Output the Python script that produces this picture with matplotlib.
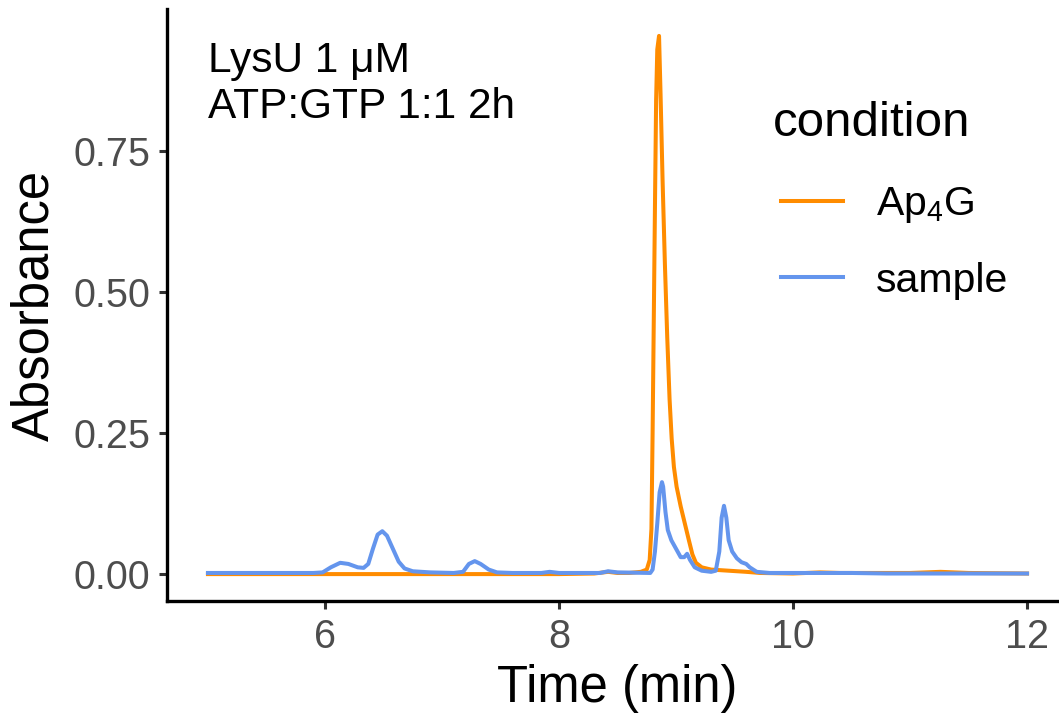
import matplotlib
matplotlib.use("Agg")
import matplotlib.pyplot as plt

plt.rcParams["font.family"] = ["Liberation Sans", "DejaVu Sans"]
plt.rcParams["mathtext.fontset"] = "custom"
plt.rcParams["mathtext.rm"] = "Liberation Sans"

# Ap4G standard trace (time in min, absorbance)
ap4g_time = [5.0, 6.0, 7.0, 8.0, 8.3, 8.42, 8.5, 8.6, 8.70, 8.75, 8.775, 8.79,
             8.80, 8.81, 8.82, 8.83, 8.84, 8.855, 8.868, 8.885, 8.905, 8.925,
             8.945, 8.963, 8.982, 9.005, 9.04, 9.075, 9.11, 9.14, 9.17, 9.22,
             9.30, 9.45, 9.6, 9.72, 10.0, 10.23, 10.4, 10.6, 11.0, 11.26,
             11.5, 12.0]
ap4g_abs = [0.0, 0.0, 0.0, 0.0, 0.001, 0.004, 0.002, 0.002, 0.004, 0.008, 0.025,
            0.08, 0.25, 0.45, 0.65, 0.84, 0.93, 0.954, 0.85, 0.70, 0.55, 0.42,
            0.31, 0.24, 0.19, 0.155, 0.12, 0.09, 0.06, 0.035, 0.02, 0.012,
            0.008, 0.006, 0.004, 0.002, 0.001, 0.003, 0.002, 0.002, 0.002,
            0.004, 0.002, 0.001]

# reaction sample trace
sample_time = [5.0, 5.9, 5.98, 6.05, 6.13, 6.2, 6.28, 6.33, 6.37, 6.41, 6.45,
               6.49, 6.53, 6.58, 6.63, 6.68, 6.75, 6.9, 7.1, 7.18, 7.23, 7.28,
               7.33, 7.40, 7.47, 7.6, 7.85, 7.92, 8.0, 8.35, 8.42, 8.5, 8.78,
               8.80, 8.82, 8.84, 8.86, 8.88, 8.89, 8.91, 8.93, 8.96, 9.0, 9.04,
               9.07, 9.095, 9.12, 9.16, 9.22, 9.3, 9.34, 9.37, 9.39, 9.41, 9.43,
               9.45, 9.48, 9.52, 9.56, 9.60, 9.63, 9.69, 9.8, 10.0, 10.5, 10.8,
               11.0, 11.5, 12.0]
sample_abs = [0.002, 0.002, 0.003, 0.012, 0.020, 0.018, 0.012, 0.011, 0.018,
              0.045, 0.070, 0.076, 0.068, 0.045, 0.022, 0.010, 0.005, 0.003,
              0.002, 0.004, 0.018, 0.023, 0.018, 0.008, 0.003, 0.002, 0.002,
              0.004, 0.002, 0.002, 0.005, 0.003, 0.002, 0.008, 0.04, 0.09,
              0.145, 0.163, 0.155, 0.11, 0.078, 0.060, 0.045, 0.030, 0.030,
              0.036, 0.025, 0.012, 0.006, 0.004, 0.006, 0.04, 0.10, 0.121, 0.10,
              0.06, 0.040, 0.028, 0.021, 0.018, 0.012, 0.004, 0.002, 0.002,
              0.002, 0.001, 0.001, 0.001, 0.001]

fig = plt.figure(figsize=(10.59, 7.22), dpi=100)
ax = fig.add_axes([167 / 1059, 121 / 722, 901 / 1059, 592 / 722])

ax.plot(ap4g_time, ap4g_abs, color="#FF8C00", lw=2.9, label=r"Ap$_\mathregular{4}$G",
        solid_joinstyle="round")
ax.plot(sample_time, sample_abs, color="#6495ED", lw=2.9, label="sample",
        solid_joinstyle="round")

ax.set_xlim(4.65, 12.35)
ax.set_ylim(-0.0477, 1.0017)
ax.set_xticks([6, 8, 10, 12])
ax.set_yticks([0.0, 0.25, 0.5, 0.75])
ax.set_yticklabels(["0.00", "0.25", "0.50", "0.75"])

for s in ["top", "right"]:
    ax.spines[s].set_visible(False)
for s in ["left", "bottom"]:
    ax.spines[s].set_linewidth(2.4)
    ax.spines[s].set_color("black")
ax.tick_params(length=6, width=2.2, color="#333333", labelcolor="#4D4D4D",
               labelsize=28.5, pad=6)

ax.set_xlabel("Time (min)", fontsize=36.5, labelpad=6)
ax.set_ylabel("Absorbance", fontsize=36.5, labelpad=10)

ax.text(5.0, 0.945, "LysU 1 μM\nATP:GTP 1:1 2h", fontsize=30.5, ha="left",
        va="top", linespacing=1.2)

# legend: title as separate text so it sits left of the keys like ggplot
fig.text(773 / 1059, 1 - 136 / 722, "condition", fontsize=35.5, ha="left",
         va="baseline")
leg = ax.legend(loc="upper left",
                bbox_to_anchor=(761 / 1059, 1 - 165 / 722),
                bbox_transform=fig.transFigure, frameon=False, fontsize=29.5,
                handlelength=1.5, handletextpad=0.8,
                labelspacing=0.88, borderpad=0)

fig.savefig("out.png", dpi=100)
